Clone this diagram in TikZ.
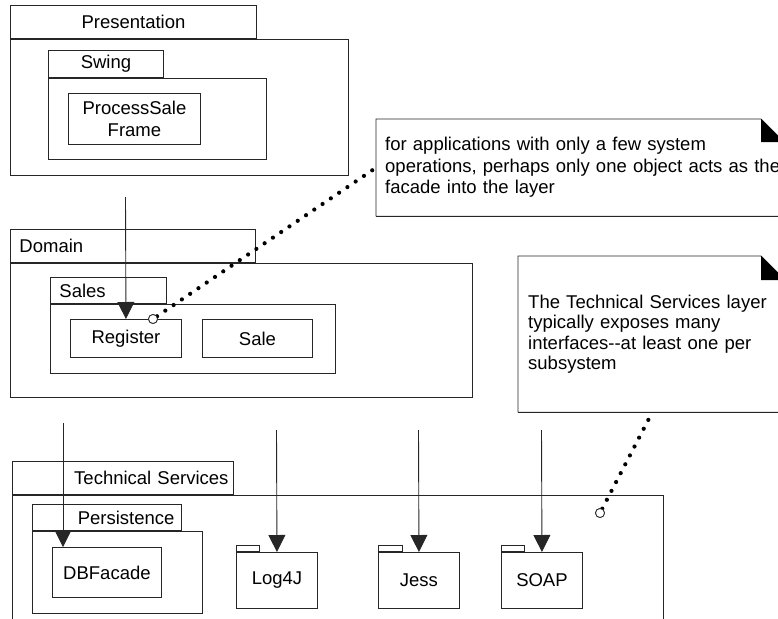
\documentclass[tikz,border=0pt]{standalone}
\usepackage{fontspec}
\setmainfont{Liberation Sans}
\usetikzlibrary{arrows.meta,positioning}
\definecolor{InkGray}{RGB}{38,38,38}

\begin{document}
\begin{tikzpicture}[x=1pt,y=-1pt,>=Latex,
    font=\fontsize{18.5}{21.5}\selectfont,
    box/.style={draw=InkGray,line width=0.9pt,inner sep=0pt,anchor=north west},
    tab/.style={box,anchor=south west},
    note/.style={anchor=north west,inner ysep=0pt,align=left},
    notebox/.style={draw=InkGray,line width=0.9pt},
    dep/.style={-{Triangle[length=17pt,width=17pt]},draw=InkGray,line width=0.9pt},
    tie/.style={line width=4.2pt,line cap=round,dash pattern=on 0pt off 10pt},
    pin/.style={circle,draw=InkGray,fill=white,inner sep=0pt,minimum size=9pt,line width=0.8pt}]
  \useasboundingbox (0,0) rectangle (778,618);
  \clip (0,0) rectangle (778,618);

  % Presentation layer
  \node[box,minimum width=338,minimum height=136] (pres) at (10,39) {};
  \node[tab,minimum width=246,minimum height=33] (prestab) at (pres.north west) {Presentation};
  \node[box,minimum width=218,minimum height=81] (swing) at (48,78) {};
  \node[tab,minimum width=115,minimum height=27] (swingtab) at (swing.north west) {Swing};
  \node[box,minimum width=132,minimum height=51,align=center] (psframe) at (68,93)
    {ProcessSale\\[0.5pt]Frame};

  % Domain layer
  \node[box,minimum width=462,minimum height=134] (dom) at (10,263) {};
  \node[tab,minimum height=33,inner xsep=9pt,text width=227,align=left] (domtab)
    at (dom.north west) {Domain};
  \node[box,minimum width=285,minimum height=69] (sales) at (50,304) {};
  \node[tab,minimum height=26,inner xsep=9pt,text width=98,align=left] (salestab)
    at (sales.north west) {Sales};
  \node[box,minimum width=111,minimum height=38] (reg) at (70,319) {Register};
  \node[box,minimum width=110,minimum height=38] (sale) at (202,319) {Sale};

  % Technical Services layer
  \node[box,minimum width=651,minimum height=150] (tech) at (12,495) {};
  \node[tab,minimum height=33,inner xsep=5pt,text width=211,align=right] (techtab)
    at (tech.north west) {Technical Services};
  \node[box,minimum width=170,minimum height=82] (pers) at (32,531) {};
  \node[tab,minimum height=26,inner xsep=7pt,text width=135,align=right] (perstab)
    at (pers.north west) {Persistence};
  \node[box,minimum width=109,minimum height=50] (dbf) at (52,547) {DBFacade};

  \node[box,minimum width=81,minimum height=56] (log) at (236,552) {Log4J};
  \node[tab,minimum width=23,minimum height=6] (logtab) at (log.north west) {};
  \node[box,minimum width=81,minimum height=56] (jess) at (378,552) {Jess};
  \node[tab,minimum width=24,minimum height=6] (jesstab) at (jess.north west) {};
  \node[box,minimum width=81,minimum height=56] (soap) at (501,552) {SOAP};
  \node[tab,minimum width=23,minimum height=6] (soaptab) at (soap.north west) {};

  % dependencies
  \coordinate (regsrc) at (125.5,197);
  \coordinate (dbsrc) at (63,423);
  \coordinate (logsrc) at (276.5,430);
  \coordinate (jesssrc) at (418.5,430);
  \coordinate (soapsrc) at (541.5,430);
  \draw[dep] (regsrc) -- (reg.north);
  \draw[dep] (dbsrc) -- (dbsrc |- dbf.north);
  \draw[dep] (logsrc) -- (log.north);
  \draw[dep] (jesssrc) -- (jess.north);
  \draw[dep] (soapsrc) -- (soap.north);

  % notes
  \node[note,inner xsep=9pt,text width=400,minimum height=97] (note1) at (376,119)
    {for applications with only a few system\\
     operations, perhaps only one object acts as the\\
     facade into the layer};
  \draw[notebox] (note1.south west) -- (note1.north west) -- ++(385,0) coordinate (ear1)
    -- ++(23,23) |- (note1.south west);
  \fill (ear1) -- ++(23,23) -- ++(-23,0) -- cycle;

  \node[note,inner xsep=10pt,text width=248,minimum height=156,
    font=\fontsize{18.5}{20.5}\selectfont] (note2) at (518,256)
    {The Technical Services layer\\
     typically exposes many\\
     interfaces-{}-at least one per\\
     subsystem};
  \draw[notebox] (note2.south west) -- (note2.north west) -- ++(243,0) coordinate (ear2)
    -- ++(24,24) |- (note2.south west);
  \fill (ear2) -- ++(24,24) -- ++(-24,0) -- cycle;

  \node[pin] (pin1) at (153,319) {};
  \node[pin] (pin2) at (600,513) {};
  \draw[tie] (pin1) -- (note1.west);
  \draw[tie] (pin2) -- (note2.south);
  \node[pin] at (pin1) {};
  \node[pin] at (pin2) {};
\end{tikzpicture}
\end{document}
